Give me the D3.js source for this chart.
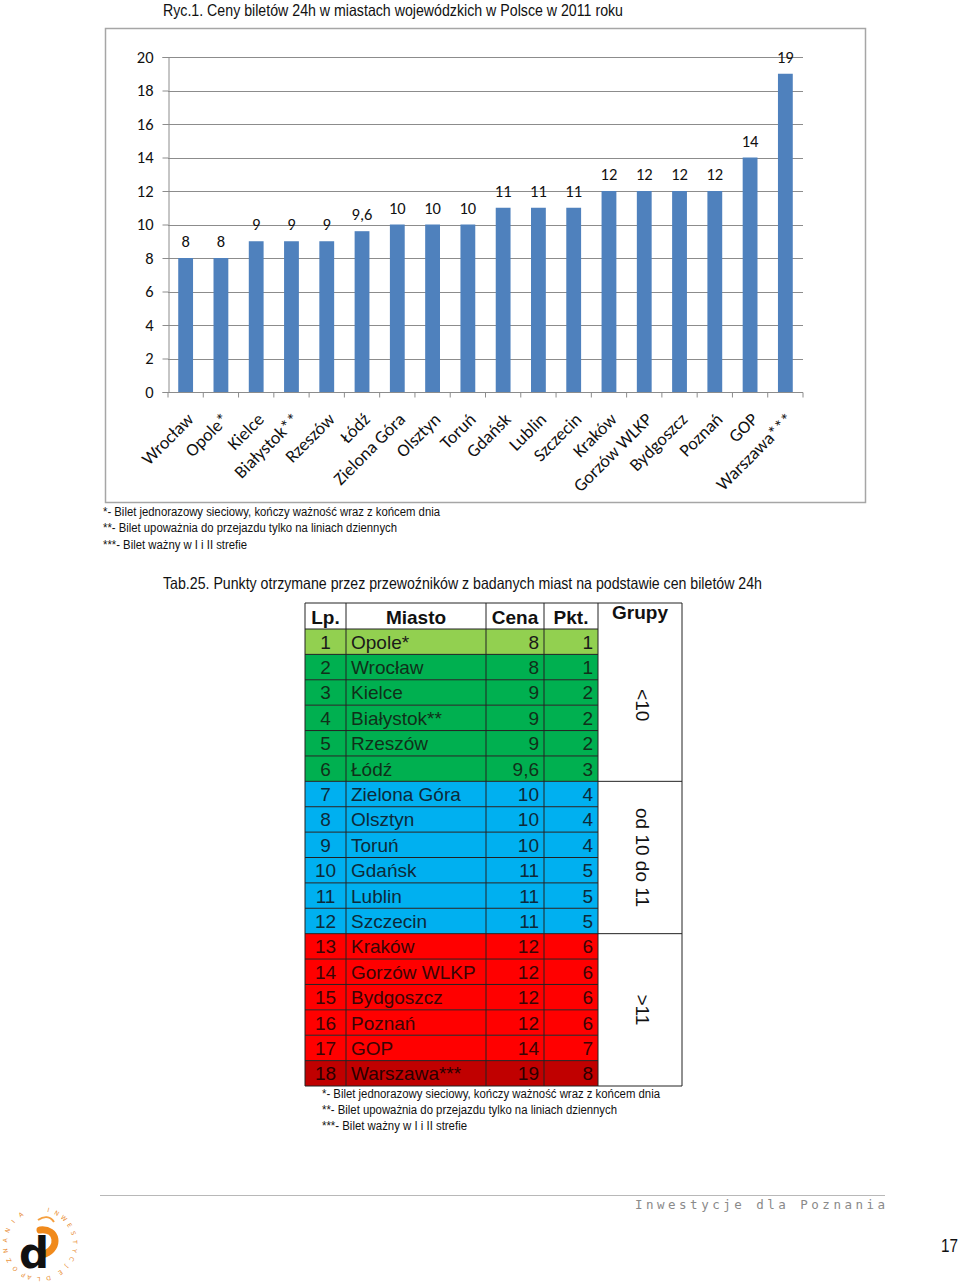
<!DOCTYPE html>
<html><head><meta charset="utf-8">
<script src="https://cdn.jsdelivr.net/npm/d3@7"></script>
<style>
body{margin:0;background:#fff;}
svg{display:block;}
.narrow{font-family:'Liberation Sans Narrow','Arial Narrow','Liberation Sans',sans-serif;}
.cal{font-family:Carlito,Lato,'Open Sans',sans-serif;}
.arial{font-family:'Liberation Sans',Arial,sans-serif;}
</style></head>
<body>
<script>
// ---- Data ----
const categories = ["Wrocław","Opole*","Kielce","Białystok**","Rzeszów","Łódź","Zielona Góra","Olsztyn","Toruń","Gdańsk","Lublin","Szczecin","Kraków","Gorzów WLKP","Bydgoszcz","Poznań","GOP","Warszawa***"];
const prices = [8,8,9,9,9,9.6,10,10,10,11,11,11,12,12,12,12,14,19];
const yTicks = [0,2,4,6,8,10,12,14,16,18,20];

const tableLp = [1,2,3,4,5,6,7,8,9,10,11,12,13,14,15,16,17,18];
const tableCities = ["Opole*","Wrocław","Kielce","Białystok**","Rzeszów","Łódź","Zielona Góra","Olsztyn","Toruń","Gdańsk","Lublin","Szczecin","Kraków","Gorzów WLKP","Bydgoszcz","Poznań","GOP","Warszawa***"];
const tablePrices = ["8","8","9","9","9","9,6","10","10","10","11","11","11","12","12","12","12","14","19"];
const tablePoints = [1,1,2,2,2,3,4,4,4,5,5,5,6,6,6,6,7,8];
const tableColorClass = [0,1,1,1,1,1,2,2,2,2,2,2,3,3,3,3,3,4];
const groupLabels = ["<10","od 10 do 11",">11"];
const groupRowSpans = [6,6,6];
const headers = ["Lp.","Miasto","Cena","Pkt.","Grupy"];
const footnotes = ["*- Bilet jednorazowy sieciowy, kończy ważność wraz z końcem dnia","**- Bilet upoważnia do przejazdu tylko na liniach dziennych","***- Bilet ważny w I i II strefie"];
const footnoteWidths = [337,294,144];

const W = 960, H = 1284;
const svg = d3.select("body").append("svg").attr("width",W).attr("height",H);
const fmt = v => String(v).replace(".", ",");

// ---- Title ----
svg.append("text").attr("class","narrow").attr("x",163).attr("y",16)
  .attr("font-size",16.5).attr("fill","#111").attr("textLength",460).attr("lengthAdjust","spacingAndGlyphs")
  .text("Ryc.1. Ceny biletów 24h w miastach wojewódzkich w Polsce w 2011 roku");

// ---- Chart frame ----
svg.append("rect").attr("x",105.5).attr("y",28.5).attr("width",760).attr("height",474)
  .attr("fill","#fff").attr("stroke","#a6a6a6").attr("stroke-width",1.5);

const x = d3.scaleBand().domain(categories).range([168,803]).paddingInner(0.58).paddingOuter(0.29);
const y = d3.scaleLinear().domain([0,20]).range([392,57]);

const g = svg.append("g");
g.selectAll("line.grid").data(yTicks.filter(d=>d>0)).join("line")
  .attr("x1",168).attr("x2",803).attr("y1",d=>Math.round(y(d))+0.5).attr("y2",d=>Math.round(y(d))+0.5)
  .attr("stroke","#8c8c8c").attr("stroke-width",1);

const yAxis = d3.axisLeft(y).tickValues(yTicks).tickSize(6).tickPadding(9).tickFormat(d=>d);
const ya = g.append("g").attr("transform","translate(168.5,0)").call(yAxis);
ya.select(".domain").attr("stroke","#8c8c8c");
ya.selectAll(".tick line").attr("stroke","#8c8c8c");
ya.selectAll(".tick text").attr("class","cal").attr("font-size",16.5).attr("fill","#111");

g.selectAll("rect.bar").data(prices).join("rect")
  .attr("x",(d,i)=>x(categories[i])).attr("width",x.bandwidth())
  .attr("y",d=>y(d)).attr("height",d=>y(0)-y(d)).attr("fill","#4f81bd");

const xa = g.append("g").attr("transform","translate(0,392.5)");
xa.append("line").attr("x1",168).attr("x2",803).attr("stroke","#8c8c8c");
const boundaries = d3.range(categories.length+1).map(i=>168 + i*(635/categories.length));
xa.selectAll("line.tk").data(boundaries).join("line")
  .attr("x1",d=>d).attr("x2",d=>d).attr("y1",0).attr("y2",5).attr("stroke","#8c8c8c");
xa.selectAll("text").data(categories).join("text")
  .attr("class","cal").attr("font-size",18).attr("fill","#111").attr("text-anchor","end")
  .attr("transform",d=>`translate(${x(d)+x.bandwidth()/2+9},${28}) rotate(-45)`)
  .text(d=>d);

g.selectAll("text.lbl").data(prices).join("text")
  .attr("class","cal").attr("font-size",16.5).attr("fill","#111").attr("text-anchor","middle")
  .attr("x",(d,i)=>x(categories[i])+x.bandwidth()/2).attr("y",d=>y(d)-11)
  .text(d=>fmt(d));

svg.selectAll("text.fn1").data(footnotes).join("text")
  .attr("class","narrow").attr("font-size",12).attr("fill","#111")
  .attr("textLength",(d,i)=>footnoteWidths[i]).attr("lengthAdjust","spacingAndGlyphs")
  .attr("x",103).attr("y",(d,i)=>516+i*16.3).text(d=>d);

// ---- Table ----
svg.append("text").attr("class","narrow").attr("x",163).attr("y",589)
  .attr("font-size",16.5).attr("fill","#111").attr("textLength",599).attr("lengthAdjust","spacingAndGlyphs")
  .text("Tab.25. Punkty otrzymane przez przewoźników z badanych miast na podstawie cen biletów 24h");

const colX = [305,346,486,544,598,682];
const headTop = 603, rowTop = 629, rowH = (1086-629)/18;
const rowColors = ["#92d050","#00b050","#00b0f0","#ff0000","#c00000"];
const textColors = ["#1a1a1a","#10301a","#0d2a3a","#3a0505","#2a0000"];
const tbl = svg.append("g").attr("class","arial");

tableLp.forEach((lp,i)=>{
  const ry = rowTop + i*rowH;
  tbl.append("rect").attr("x",colX[0]).attr("y",ry).attr("width",colX[4]-colX[0]).attr("height",rowH)
    .attr("fill",rowColors[tableColorClass[i]]);
});
d3.range(19).forEach(i=>{
  const ry = rowTop + i*rowH;
  tbl.append("line").attr("x1",colX[0]).attr("x2",colX[4]).attr("y1",ry).attr("y2",ry)
    .attr("stroke","#222").attr("stroke-width",1);
});
tbl.append("line").attr("x1",colX[0]).attr("x2",colX[5]).attr("y1",headTop).attr("y2",headTop).attr("stroke","#222");
colX.forEach(cx=>{
  tbl.append("line").attr("x1",cx).attr("x2",cx).attr("y1",headTop).attr("y2",1086).attr("stroke","#222");
});
let acc = 0;
groupLabels.forEach((lab,k)=>{
  const top = rowTop + acc*rowH, bot = rowTop + (acc+groupRowSpans[k])*rowH;
  tbl.append("line").attr("x1",colX[4]).attr("x2",colX[5]).attr("y1",bot).attr("y2",bot).attr("stroke","#222");
  tbl.append("text").attr("font-size",19).attr("fill","#111").attr("text-anchor","middle")
    .attr("transform",`translate(${(colX[4]+colX[5])/2-4},${(top+bot)/2}) rotate(90)`)
    .text(lab);
  acc += groupRowSpans[k];
});
const headCx = [325.5,416,515,571,640];
headers.forEach((h,i)=>{
  tbl.append("text").attr("x",headCx[i]).attr("y",i===4?619:624).attr("font-size",19)
    .attr("font-weight","bold").attr("fill","#111").attr("text-anchor","middle").text(h);
});
tableLp.forEach((lp,i)=>{
  const by = rowTop + i*rowH + rowH/2 + 7;
  const tc = textColors[tableColorClass[i]];
  tbl.append("text").attr("x",325.5).attr("y",by).attr("font-size",19).attr("text-anchor","middle").attr("fill",tc).text(lp);
  tbl.append("text").attr("x",351).attr("y",by).attr("font-size",19).attr("fill",tc).text(tableCities[i]);
  tbl.append("text").attr("x",539).attr("y",by).attr("font-size",19).attr("text-anchor","end").attr("fill",tc).text(tablePrices[i]);
  tbl.append("text").attr("x",593).attr("y",by).attr("font-size",19).attr("text-anchor","end").attr("fill",tc).text(tablePoints[i]);
});

svg.selectAll("text.fn2").data(footnotes).join("text")
  .attr("class","narrow").attr("font-size",12).attr("fill","#111")
  .attr("textLength",(d,i)=>footnoteWidths[i]+1).attr("lengthAdjust","spacingAndGlyphs")
  .attr("x",322).attr("y",(d,i)=>1098+i*16).text(d=>d);

// ---- Footer ----
svg.append("line").attr("x1",100).attr("x2",885).attr("y1",1195.5).attr("y2",1195.5).attr("stroke","#b8b8b8");
svg.append("text").attr("x",635).attr("y",1209).attr("font-family","'DejaVu Sans Mono',monospace")
  .attr("font-size",12.5).attr("fill","#8a8a8a").attr("textLength",250).attr("lengthAdjust","spacing")
  .text("Inwestycje dla Poznania");
svg.append("text").attr("class","narrow").attr("x",958).attr("y",1252).attr("text-anchor","end")
  .attr("font-size",18).attr("fill","#111").attr("textLength",17).attr("lengthAdjust","spacingAndGlyphs").text("17");

// logo
const lcx = 40, lcy = 1244, lr = 33;
const logo = svg.append("g");
const ringLetters = [];
"POZNANIA".split("").forEach((c,i)=>ringLetters.push({c, a:-152 + i*17}));
"INWESTYCJE".split("").forEach((c,i)=>ringLetters.push({c, a:14 + i*14.5}));
"DLA".split("").forEach((c,i)=>ringLetters.push({c, a:166 + i*16}));
logo.selectAll("text.ring").data(ringLetters).join("text")
  .attr("font-family","'DejaVu Sans',sans-serif").attr("font-size",6).attr("fill","#e8892a")
  .attr("text-anchor","middle")
  .attr("transform",d=>{const r=d.a*Math.PI/180;return `translate(${lcx+lr*Math.sin(r)},${lcy-lr*Math.cos(r)}) rotate(${d.a})`;})
  .text(d=>d.c);
logo.append("path").attr("d",`M ${lcx},${lcy-14} C ${lcx+18},${lcy-16} ${lcx+20},${lcy+4} ${lcx+5},${lcy+10}`)
  .attr("fill","none").attr("stroke","#f08a1c").attr("stroke-width",7).attr("stroke-linecap","round");
logo.append("path").attr("d",`M ${lcx-2},${lcy-24} C ${lcx+4},${lcy-28} ${lcx+10},${lcy-28} ${lcx+14},${lcy-22}`)
  .attr("fill","none").attr("stroke","#f5a040").attr("stroke-width",2);
logo.append("text").attr("x",lcx-6).attr("y",lcy+24).attr("text-anchor","middle").attr("font-family","'DejaVu Sans',sans-serif")
  .attr("font-weight","bold").attr("font-size",42).attr("fill","#111").text("d");
</script>
</body></html>
